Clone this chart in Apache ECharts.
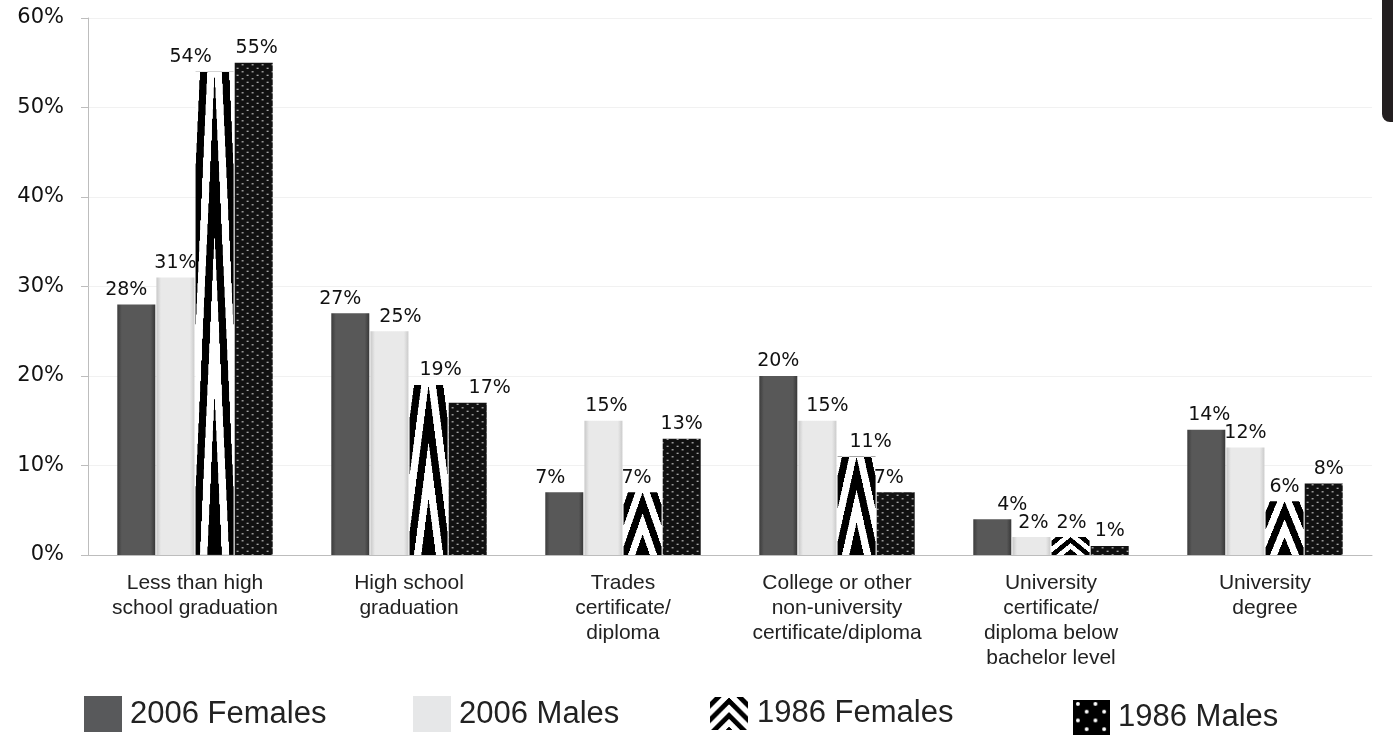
<!DOCTYPE html>
<html>
<head>
<meta charset="utf-8">
<script src="https://cdn.jsdelivr.net/npm/echarts@6/dist/echarts.min.js"></script>
<style>
html,body{margin:0;padding:0;background:#fff;}
#chart{width:1393px;height:736px;}
</style>
</head>
<body>
<div id="chart"></div>
<script>
const categories = [
  'Less than high\nschool graduation',
  'High school\ngraduation',
  'Trades\ncertificate/\ndiploma',
  'College or other\nnon-university\ncertificate/diploma',
  'University\ncertificate/\ndiploma below\nbachelor level',
  'University\ndegree'
];
const seriesNames = ['2006 Females', '2006 Males', '1986 Females', '1986 Males'];
const females2006 = [28, 27, 7, 20, 4, 14];
const males2006   = [31, 25, 15, 15, 2, 12];
const females1986 = [54, 19, 7, 11, 2, 6];
const males1986   = [55, 17, 13, 7, 1, 8];
const yTicks = [0, 10, 20, 30, 40, 50, 60];

// horizontal nudges of the value labels (style only, px)
const labelNudge = [
  [-10, -10, -14, 0, 20, 3],
  [0, 11, 3, 10, 2, 0],
  [-24, 12, -6, 14, 1, 0],
  [3, 22, 0, -7, 0, 5]
];

function chevronCanvas(W, H, N, M) {
  const c = document.createElement('canvas');
  c.width = W; c.height = H;
  const ctx = c.getContext('2d');
  const img = ctx.createImageData(W, H);
  for (let y = 0; y < H; y++) {
    for (let x = 0; x < W; x++) {
      const s = (y / H) * N - (Math.abs(x + 0.5 - W / 2) / (W / 2)) * M + 10;
      const black = Math.floor(s) % 2 === 0;
      const v = black ? 0 : 255;
      const i = (y * W + x) * 4;
      img.data[i] = v; img.data[i + 1] = v; img.data[i + 2] = v; img.data[i + 3] = 255;
    }
  }
  ctx.putImageData(img, 0, 0);
  return c;
}
function dotsCanvas() {
  const c = document.createElement('canvas');
  c.width = 10; c.height = 7;
  const ctx = c.getContext('2d');
  ctx.fillStyle = '#111';
  ctx.fillRect(0, 0, 10, 7);
  ctx.fillStyle = '#b8b8b8';
  ctx.fillRect(1.6, 1.2, 2, 1.2);
  ctx.fillRect(6.6, 4.7, 2, 1.2);
  return c;
}
function chevronIcon() {
  const W = 40, H = 34;
  const c = document.createElement('canvas');
  c.width = W; c.height = H;
  const ctx = c.getContext('2d');
  const img = ctx.createImageData(W, H);
  for (let y = 0; y < H; y++) {
    for (let x = 0; x < W; x++) {
      const s = (y - Math.abs(x + 0.5 - W / 2)) / 7.5 + 10;
      const black = Math.floor(s) % 2 === 0;
      const v = black ? 0 : 255;
      const i = (y * W + x) * 4;
      img.data[i] = v; img.data[i + 1] = v; img.data[i + 2] = v; img.data[i + 3] = 255;
    }
  }
  ctx.putImageData(img, 0, 0);
  return c.toDataURL();
}
function dotsIcon() {
  const c = document.createElement('canvas');
  c.width = 38; c.height = 36;
  const ctx = c.getContext('2d');
  ctx.fillStyle = '#000';
  ctx.fillRect(0, 0, 38, 36);
  ctx.fillStyle = '#fff';
  const pts = [[5,4],[23,4],[14,12],[32,12],[5,21],[23,21],[14,30],[32,30]];
  pts.forEach(p => { ctx.beginPath(); ctx.arc(p[0], p[1], 2, 0, Math.PI * 2); ctx.fill(); });
  return c.toDataURL();
}

const chevTile = chevronCanvas(80, 400, 3, 2.6);
const dotTile = dotsCanvas();

const darkGrad = {type:'linear', x:0, y:0, x2:1, y2:0, colorStops:[
  {offset:0, color:'#3c3c3c'},{offset:0.12, color:'#585858'},{offset:0.88, color:'#585858'},{offset:1, color:'#383838'}]};
const lightGrad = {type:'linear', x:0, y:0, x2:1, y2:0, colorStops:[
  {offset:0, color:'#c8c8c8'},{offset:0.12, color:'#e9e9e9'},{offset:0.88, color:'#e9e9e9'},{offset:1, color:'#cbcbcb'}]};

const labelStyle = {
  show: true, position: 'top', distance: 5,
  formatter: p => p.value + '%',
  fontFamily: 'DejaVu Sans', fontSize: 19, color: '#111'
};

function withNudge(values, si, extra) {
  return values.map((v, i) => Object.assign({ value: v, label: { offset: [labelNudge[si][i], 0] } }, extra ? extra(i) : {}));
}

function barSeries(name, data, color) {
  return {
    name, type: 'bar', data, barWidth: 38, barGap: '3%',
    itemStyle: { color },
    label: labelStyle,
    emphasis: { disabled: true }
  };
}

const legendFont = { fontFamily: 'Liberation Sans', fontSize: 31, color: '#222', padding: [0, 0, 0, 3] };
const chart = echarts.init(document.getElementById('chart'));
const option = {
  animation: false,
  grid: { left: 88, right: 21, top: 18, bottom: 181 },
  graphic: [{
    type: 'rect', right: 0, top: 0,
    shape: { width: 11, height: 122, r: [0, 0, 0, 8] },
    style: { fill: '#231f20' }
  }],
  legend: [
    { data: [{ name: seriesNames[0], icon: 'rect', itemStyle: { color: '#58595b' } }],
      left: 84, top: 696, padding: 0, itemWidth: 38, itemHeight: 36, textStyle: legendFont, selectedMode: false },
    { data: [{ name: seriesNames[1], icon: 'rect', itemStyle: { color: '#e6e7e8' } }],
      left: 413, top: 696, padding: 0, itemWidth: 38, itemHeight: 36, textStyle: legendFont, selectedMode: false },
    { data: [{ name: seriesNames[2], icon: 'image://' + chevronIcon() }],
      left: 709, top: 697, padding: 0, itemWidth: 40, itemHeight: 33, textStyle: legendFont, selectedMode: false },
    { data: [{ name: seriesNames[3], icon: 'image://' + dotsIcon() }],
      left: 1073, top: 700, padding: 0, itemWidth: 37, itemHeight: 35, textStyle: legendFont, selectedMode: false }
  ],
  xAxis: {
    type: 'category', data: categories,
    axisLine: { show: true, lineStyle: { color: '#bdbdbd' } },
    axisTick: { show: false },
    axisLabel: { fontFamily: 'Liberation Sans', fontSize: 21, color: '#222', lineHeight: 25, margin: 16, interval: 0 }
  },
  yAxis: {
    type: 'value', min: 0, max: 60, interval: 10,
    axisLine: { show: true, lineStyle: { color: '#bdbdbd' } },
    axisTick: { show: true, length: 7, lineStyle: { color: '#bdbdbd' } },
    splitLine: { lineStyle: { color: '#f1f1f1' } },
    axisLabel: {
      formatter: v => yTicks.indexOf(v) >= 0 ? v + '%' : '',
      fontFamily: 'DejaVu Sans', fontSize: 21, color: '#111', margin: 24
    }
  },
  series: [
    barSeries(seriesNames[0], withNudge(females2006, 0), darkGrad),
    barSeries(seriesNames[1], withNudge(males2006, 1), lightGrad),
    barSeries(seriesNames[2], withNudge(females1986, 2), '#000'),
    barSeries(seriesNames[3], withNudge(males1986, 3), { image: dotTile, repeat: 'repeat' })
  ]
};
chart.setOption(option);

// stretch the chevron image onto each 1986 Females bar using the library's bar layout
const data2 = chart.getModel().getSeriesByIndex(2).getData();
const chevData = withNudge(females1986, 2, i => {
  const l = data2.getItemLayout(i);
  const top = Math.min(l.y, l.y + l.height);
  const h = Math.abs(l.height);
  const left = Math.min(l.x, l.x + l.width);
  const w = Math.abs(l.width);
  return {
    itemStyle: { color: { image: chevTile, repeat: 'repeat', x: left, y: top, scaleX: w / chevTile.width, scaleY: h / chevTile.height } }
  };
});
chart.setOption({ series: [{}, {}, { data: chevData }, {}] });
</script>
</body>
</html>
